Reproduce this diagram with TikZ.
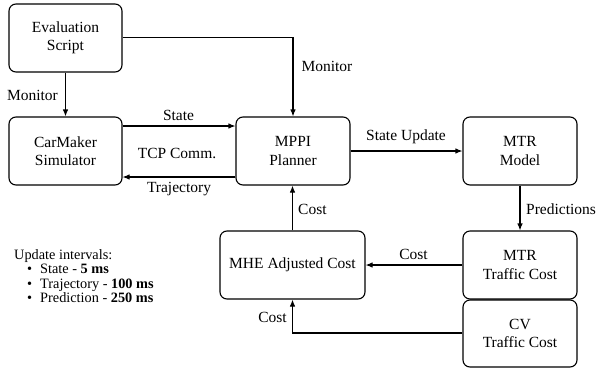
\documentclass[tikz,border=0pt]{standalone}
\usepackage{fontspec}
\setmainfont{Liberation Serif}
\usetikzlibrary{arrows.meta}
\begin{document}
\begin{tikzpicture}[x=1pt,y=-1pt,
  box/.style={draw, line width=1.1pt, rounded corners=7pt, align=center,
    minimum width=113pt, minimum height=68pt, inner sep=0pt,
    font=\fontsize{15.5}{18.5}\selectfont},
  lbl/.style={inner sep=0pt, font=\fontsize{15.5}{18.5}\selectfont},
  conn/.style={line width=1.1pt, -{Latex[length=7pt,width=5.5pt]}}]
\useasboundingbox (0,0) rectangle (597,370);
\node[box] (eval) at (65.5,38) {Evaluation\\Script};
\node[box] (car) at (65.5,151) {CarMaker\\Simulator};
\node[box, minimum width=114pt] (mppi) at (293,151) {MPPI\\Planner};
\node[box, minimum width=114pt] (mtr) at (520,151) {MTR\\Model};
\node[box, minimum width=114pt] (mtrc) at (520,265) {MTR\\Traffic Cost};
\node[box, minimum width=114pt, minimum height=67pt] (cv) at (520,333.5) {CV\\Traffic Cost};
\node[box, minimum width=145pt] (mhe) at (292.5,265) {MHE Adjusted Cost};

\coordinate (c1) at (293,37.7);
\draw[conn] (eval.east |- c1) -| (mppi.north);
\draw[conn] (eval.south) -- (car.north);
\draw[conn] ([yshift=25pt]car.east) -- ([yshift=25pt]mppi.west);
\draw[conn] ([yshift=-26pt]mppi.west) -- ([yshift=-26pt]car.east);
\draw[conn] (mppi.east) -- (mtr.west);
\draw[conn] (mtr.south) -- (mtrc.north);
\draw[conn] (mtrc.west) -- (mhe.east);
\draw[conn] (mhe.north) -- (mhe.north |- mppi.south);
\coordinate (c2) at (293,333);
\draw[conn] (cv.west |- c2) -| (mhe.south);

\node[lbl] (l1) at (32.5,95) {Monitor};
\node[lbl] (l2) at (327,66) {Monitor};
\node[lbl] (l3) at (178.5,115) {State};
\node[lbl] (l4) at (177,153) {TCP Comm.};
\node[lbl] (l5) at (179,189) {Trajectory};
\node[lbl] (l6) at (406,137) {State Update};
\node[lbl, anchor=west] (l7) at (526,209) {Predictions};
\node[lbl, anchor=west] (l8) at (298,209) {Cost};
\node[lbl] (l9) at (413.5,254) {Cost};
\node[lbl, anchor=east] (l10) at (287,317) {Cost};

\node[anchor=north west, inner sep=0pt, align=left,
  font=\fontsize{14.3}{14.6}\selectfont] (upd) at (14,249)
  {Update intervals:\\
   \hspace*{13pt}\makebox[13pt][l]{\textbullet}State - \textbf{5 ms}\\
   \hspace*{13pt}\makebox[13pt][l]{\textbullet}Trajectory - \textbf{100 ms}\\
   \hspace*{13pt}\makebox[13pt][l]{\textbullet}Prediction - \textbf{250 ms}};
\end{tikzpicture}
\end{document}
